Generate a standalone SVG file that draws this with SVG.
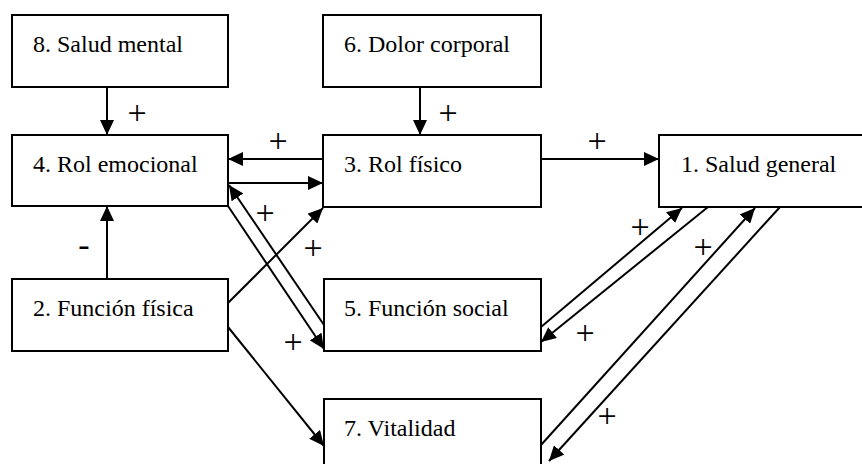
<svg xmlns="http://www.w3.org/2000/svg" width="862" height="464" viewBox="0 0 862 464">
<style>
.box{fill:#fff;stroke:#000;stroke-width:2}
.c{fill:none;stroke:#000;stroke-width:2;marker-end:url(#ah)}
</style>
<defs>
<marker id="ah" markerUnits="userSpaceOnUse" markerWidth="15" markerHeight="14" refX="15" refY="7" orient="auto">
<path d="M0,0 L15,7 L0,14 z" fill="#000"/>
</marker>
</defs>
<rect width="862" height="464" fill="#fff"/>
<g font-family="Liberation Serif, Times New Roman, Times, serif" font-size="24" fill="#000">
<g id="n8"><rect class="box" x="12" y="15" width="216" height="72"/><text x="33" y="52">8. Salud mental</text></g>
<g id="n6"><rect class="box" x="323" y="15" width="218" height="72"/><text x="344" y="52">6. Dolor corporal</text></g>
<g id="n4"><rect class="box" x="12" y="135" width="216" height="71"/><text x="33" y="172">4. Rol emocional</text></g>
<g id="n3"><rect class="box" x="323" y="135" width="218" height="72"/><text x="344" y="172">3. Rol físico</text></g>
<g id="n1"><rect class="box" x="659" y="135" width="230" height="72"/><text x="681" y="172">1. Salud general</text></g>
<g id="n2"><rect class="box" x="12" y="279" width="216" height="72"/><text x="33" y="316">2. Función física</text></g>
<g id="n5"><rect class="box" x="324" y="279" width="217" height="72"/><text x="344" y="316">5. Función social</text></g>
<g id="n7"><rect class="box" x="324" y="399" width="217" height="80"/><text x="344" y="436">7. Vitalidad</text></g>
</g>
<g id="connectors">
<line class="c" x1="107" y1="87" x2="107" y2="135"/>
<line class="c" x1="420" y1="87" x2="420" y2="135"/>
<line class="c" x1="323" y1="159" x2="228" y2="159"/>
<line class="c" x1="228" y1="183" x2="323" y2="183"/>
<line class="c" x1="541" y1="159" x2="659" y2="159"/>
<line class="c" x1="107" y1="279" x2="107" y2="206"/>
<line class="c" x1="228" y1="303" x2="323" y2="208"/>
<line class="c" x1="228" y1="206" x2="324" y2="349"/>
<line class="c" x1="324" y1="325" x2="229" y2="185"/>
<line class="c" x1="228" y1="327" x2="324" y2="446"/>
<line class="c" x1="541" y1="327" x2="682" y2="208"/>
<line class="c" x1="708" y1="207" x2="541" y2="342"/>
<line class="c" x1="541" y1="445" x2="755" y2="208"/>
<line class="c" x1="780" y1="207" x2="549" y2="461"/>
</g>
<g id="labels" font-family="Liberation Serif, Times New Roman, Times, serif" font-size="34" fill="#000" text-anchor="middle">
<text x="137" y="124">+</text>
<text x="448" y="124">+</text>
<text x="278" y="152">+</text>
<text x="597" y="152">+</text>
<text x="84" y="256">-</text>
<text x="265" y="224">+</text>
<text x="313" y="259">+</text>
<text x="293" y="353">+</text>
<text x="640" y="238">+</text>
<text x="585" y="344">+</text>
<text x="703" y="258">+</text>
<text x="607" y="427">+</text>
</g>
</svg>
